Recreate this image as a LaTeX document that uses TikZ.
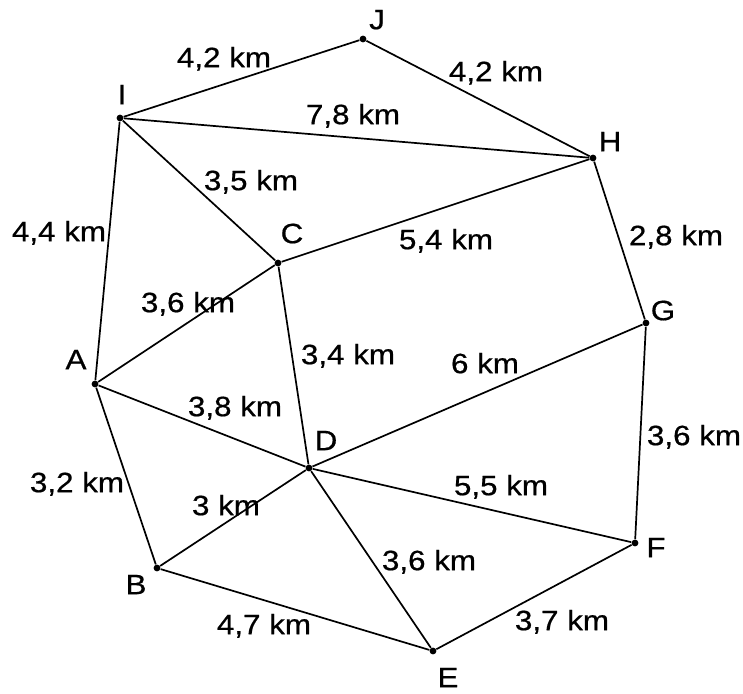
\documentclass[tikz,border=0pt]{standalone}
\usepackage{fontspec}
\setmainfont{Liberation Sans}[FakeStretch=1.12, FakeBold=0.6]
\usepackage{tikz}
\tikzset{
  dot/.style={circle, fill=black, inner sep=0pt, minimum size=3.4pt},
  road/.style={line width=0.85pt, black},
  vname/.style={inner sep=0pt, font=\fontsize{14}{16}\selectfont,
                text height=0.716em, text depth=0pt},
  dist/.style={vname},
}

\begin{document}
\begin{tikzpicture}[x=0.5pt, y=-0.5pt]
  \useasboundingbox (0,0) rectangle (743,693);

  % villages
  \node[dot] (J) at (363,39)  {};
  \node[dot] (I) at (120,118) {};
  \node[dot] (H) at (593,158) {};
  \node[dot] (C) at (278,263) {};
  \node[dot] (G) at (646,323) {};
  \node[dot] (A) at (95,384)  {};
  \node[dot] (D) at (309,468) {};
  \node[dot] (F) at (635,543) {};
  \node[dot] (B) at (157,568) {};
  \node[dot] (E) at (433,651) {};

  % names
  \node[vname] (lJ) at (377,22)  {J};
  \node[vname] (lI) at (122,97)  {I};
  \node[vname] (lH) at (610,144) {H};
  \node[vname] (lC) at (292,236) {C};
  \node[vname] (lG) at (663,313) {G};
  \node[vname] (lA) at (76,362)  {A};
  \node[vname] (lD) at (326,443) {D};
  \node[vname] (lF) at (656,550) {F};
  \node[vname] (lB) at (136,587) {B};
  \node[vname] (lE) at (448,680) {E};

  % roads
  \draw[road] (I) -- (J);
  \draw[road] (J) -- (H);
  \draw[road] (I) -- (H);
  \draw[road] (I) -- (C);
  \draw[road] (I) -- (A);
  \draw[road] (C) -- (H);
  \draw[road] (H) -- (G);
  \draw[road] (A) -- (C);
  \draw[road] (C) -- (D);
  \draw[road] (D) -- (G);
  \draw[road] (A) -- (D);
  \draw[road] (G) -- (F);
  \draw[road] (A) -- (B);
  \draw[road] (D) -- (F);
  \draw[road] (B) -- (D);
  \draw[road] (D) -- (E);
  \draw[road] (B) -- (E);
  \draw[road] (E) -- (F);

  % distances
  \node[dist] (dIJ) at (224,60)  {4,2 km};
  \node[dist] (dJH) at (496,74)  {4,2 km};
  \node[dist] (dIH) at (353,117) {7,8 km};
  \node[dist] (dIC) at (251,183) {3,5 km};
  \node[dist] (dIA) at (59,234)  {4,4 km};
  \node[dist] (dCH) at (446,242) {5,4 km};
  \node[dist] (dHG) at (676,238) {2,8 km};
  \node[dist] (dAC) at (188,305) {3,6 km};
  \node[dist] (dCD) at (348,357) {3,4 km};
  \node[dist] (dDG) at (485,366) {6 km};
  \node[dist] (dAD) at (235,409) {3,8 km};
  \node[dist] (dGF) at (694,438) {3,6 km};
  \node[dist] (dAB) at (77,485)  {3,2 km};
  \node[dist] (dDF) at (501,488) {5,5 km};
  \node[dist] (dBD) at (226,508) {3 km};
  \node[dist] (dDE) at (429,563) {3,6 km};
  \node[dist] (dBE) at (264,627) {4,7 km};
  \node[dist] (dEF) at (562,623) {3,7 km};
\end{tikzpicture}
\end{document}
